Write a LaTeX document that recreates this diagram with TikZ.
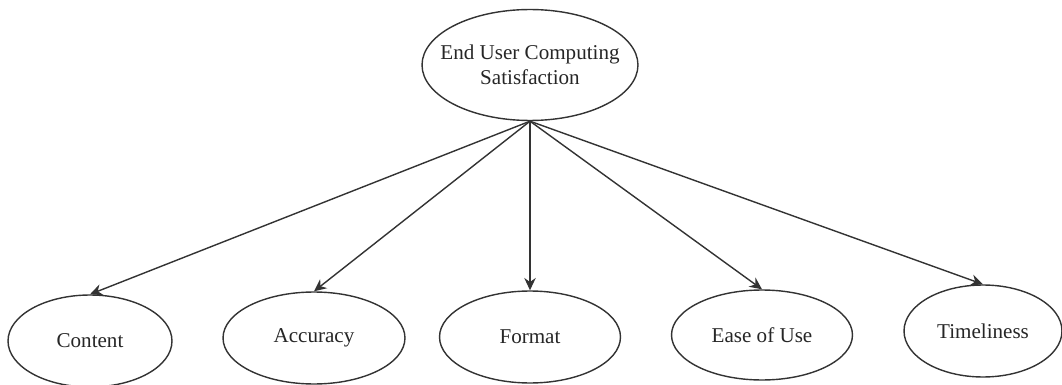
\documentclass[tikz,border=0pt]{standalone}
\usepackage{fontspec}
\setmainfont{Liberation Serif}
\usetikzlibrary{shapes.geometric,arrows.meta}

\begin{document}
\begin{tikzpicture}[x=0.02cm,y=-0.02cm]
\tikzset{every node/.style={ellipse,draw=black!80,thick,inner sep=0pt,
    font=\fontsize{12}{14}\selectfont,text=black!85,align=center},
  link/.style={draw=black!80,thick,-{Stealth[length=7pt,width=6.5pt]}}}
\useasboundingbox (0,0) rectangle (1062,385);

\node[minimum width=4.32cm,minimum height=2.22cm,inner xsep=-9pt] (ecs) at (530,65)
  {End User Computing\\Satisfaction};

\node[minimum width=3.28cm,minimum height=1.84cm] (content) at (90,341) {Content};
\node[minimum width=3.64cm,minimum height=1.84cm] (accuracy) at (314,338) {Accuracy};
\node[minimum width=3.62cm,minimum height=1.84cm] (format) at (530,337) {Format};
\node[minimum width=3.62cm,minimum height=1.80cm] (ease) at (762,335) {Ease of Use};
\node[minimum width=3.16cm,minimum height=1.84cm] (timely) at (983,331) {Timeliness};

\draw[link] (ecs.south) -- (content.north);
\draw[link] (ecs.south) -- (accuracy.north);
\draw[link] (ecs.south) -- (format.north);
\draw[link] (ecs.south) -- (ease.north);
\draw[link] (ecs.south) -- (timely.north);
\end{tikzpicture}
\end{document}
